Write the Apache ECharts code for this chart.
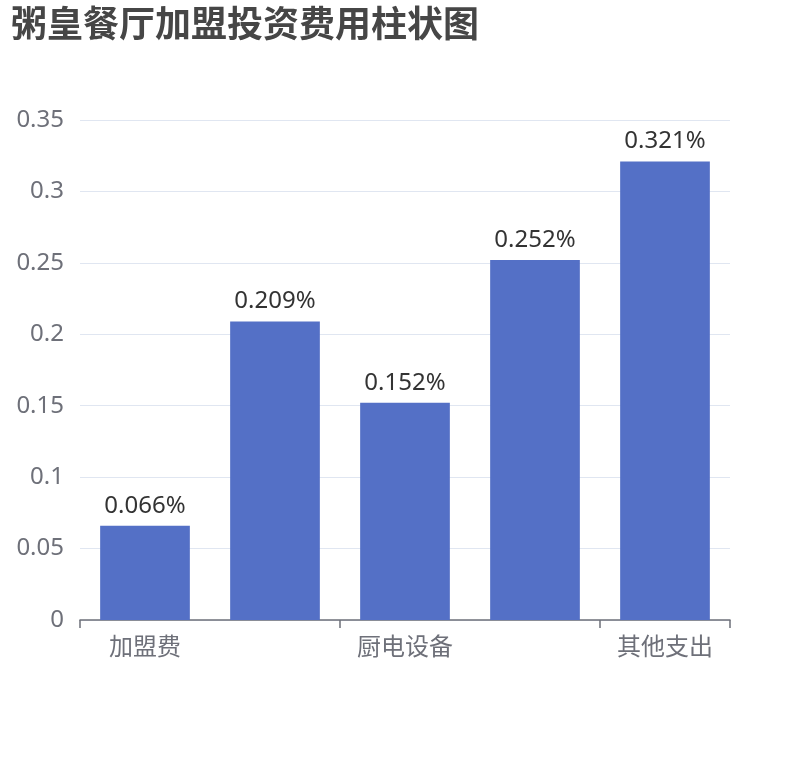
<!DOCTYPE html>
<html>
<head>
<meta charset="utf-8">
<script src="https://cdn.jsdelivr.net/npm/echarts@6/dist/echarts.min.js"></script>
<style>
  html, body { margin: 0; padding: 0; background: #fff; }
  #main { width: 810px; height: 760px; }
</style>
</head>
<body>
<div id="main"></div>
<script>
// 费用类别与占比
const categories = ['加盟费', '店面装修', '厨电设备', '首批进货', '其他支出'];
const values = [0.066, 0.209, 0.152, 0.252, 0.321];
const yTicks = [0, 0.05, 0.1, 0.15, 0.2, 0.25, 0.3, 0.35];

const font = '"Noto Sans", "Noto Sans CJK SC", sans-serif';

let myChart = echarts.init(document.getElementById('main'));
myChart.setOption({
    textStyle: { fontFamily: font },
    title: {
        text: '粥皇餐厅加盟投资费用柱状图',
        left: 6,
        top: 4,
        textStyle: { fontSize: 36, fontWeight: 'bold', color: '#464646', fontFamily: font }
    },
    grid: { left: 80, right: 80, top: 120, bottom: 140 },
    xAxis: {
        type: 'category',
        data: categories,
        axisLabel: { interval: 1, fontSize: 24, color: '#6e7079', margin: 16 },
        axisLine: { lineStyle: { color: '#6e7079', width: 1.5 } },
        axisTick: { show: true, length: 8, lineStyle: { color: '#6e7079', width: 1.5 } }
    },
    yAxis: {
        type: 'value',
        min: yTicks[0],
        max: yTicks[yTicks.length - 1],
        interval: 0.05,
        axisLabel: { fontSize: 24, color: '#6e7079', margin: 16 },
        splitLine: { lineStyle: { color: '#e0e6f1' } }
    },
    series: [
        {
            type: 'bar',
            data: values,
            barWidth: '69%',
            itemStyle: { color: '#5470c6' },
            label: {
                show: true,
                position: 'top',
                formatter: '{c}%',
                fontSize: 24,
                color: '#333',
                distance: 8
            }
        }
    ]
});
</script>
</body>
</html>
